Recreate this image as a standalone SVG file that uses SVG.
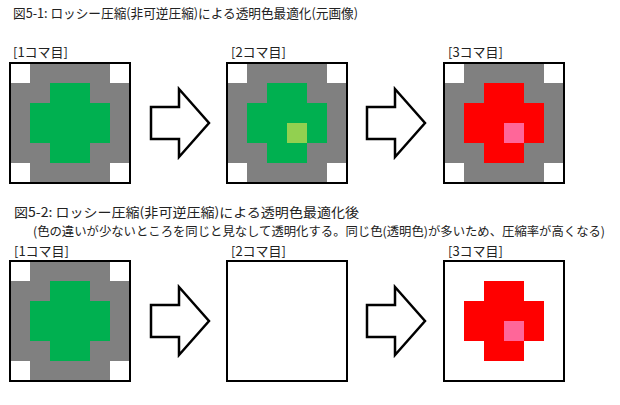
<svg xmlns="http://www.w3.org/2000/svg" xmlns:xlink="http://www.w3.org/1999/xlink" width="620" height="405" viewBox="0 0 620 405">
<style>
text{font-family:"Noto Sans CJK JP","Liberation Sans",sans-serif;font-size:13px;fill:#222}
.sub{font-size:12.5px}
.g{fill:#808080}.w{fill:#fff}.gr{fill:#00B050}.lg{fill:#92D050}.r{fill:#FF0000}.pk{fill:#FF6699}
.frame{fill:none;stroke:#000;stroke-width:2}
.arrow{fill:#fff;stroke:#000;stroke-width:2.5;stroke-linejoin:miter}
</style>
<defs>
<g id="base">
<rect class="g" x="0" y="0" width="120" height="120"/>
<rect class="w" x="0" y="0" width="20" height="20"/>
<rect class="w" x="100" y="0" width="20" height="20"/>
<rect class="w" x="0" y="100" width="20" height="20"/>
<rect class="w" x="100" y="100" width="20" height="20"/>
</g>
<path id="cross" d="M40 20H80V40H100V80H80V100H40V80H20V40H40Z"/>
<polygon id="arr" class="arrow" points="0,-16 28,-16 28,-34 58,0 28,34 28,16 0,16"/>
</defs>
<rect width="620" height="405" fill="#fff"/>
<text x="13" y="18" textLength="345" lengthAdjust="spacingAndGlyphs">図5-1: ロッシー圧縮(非可逆圧縮)による透明色最適化(元画像)</text>
<text x="13" y="57">[1コマ目]</text>
<text x="231" y="57">[2コマ目]</text>
<text x="448" y="57">[3コマ目]</text>
<g id="f1-1" transform="translate(10,63)">
<use xlink:href="#base"/><use xlink:href="#cross" class="gr"/>
<rect class="frame" x="0" y="0" width="120" height="120"/>
</g>
<g id="f1-2" transform="translate(227,63)">
<use xlink:href="#base"/><use xlink:href="#cross" class="gr"/>
<rect class="lg" x="60" y="60" width="20" height="20"/>
<rect class="frame" x="0" y="0" width="120" height="120"/>
</g>
<g id="f1-3" transform="translate(444,63)">
<use xlink:href="#base"/><use xlink:href="#cross" class="r"/>
<rect class="pk" x="60" y="60" width="20" height="20"/>
<rect class="frame" x="0" y="0" width="120" height="120"/>
</g>
<text x="14" y="217" textLength="345" lengthAdjust="spacingAndGlyphs">図5-2: ロッシー圧縮(非可逆圧縮)による透明色最適化後</text>
<text class="sub" x="33" y="236" textLength="572" lengthAdjust="spacingAndGlyphs">(色の違いが少ないところを同じと見なして透明化する。同じ色(透明色)が多いため、圧縮率が高くなる)</text>
<text x="14" y="256">[1コマ目]</text>
<text x="231" y="256">[2コマ目]</text>
<text x="448" y="256">[3コマ目]</text>
<g id="f2-1" transform="translate(10,261)">
<use xlink:href="#base"/><use xlink:href="#cross" class="gr"/>
<rect class="frame" x="0" y="0" width="120" height="120"/>
</g>
<g id="f2-2" transform="translate(227,261)">
<rect class="w" x="0" y="0" width="120" height="120"/>
<rect class="frame" x="0" y="0" width="120" height="120"/>
</g>
<g id="f2-3" transform="translate(444,261)">
<rect class="w" x="0" y="0" width="120" height="120"/>
<use xlink:href="#cross" class="r"/>
<rect class="pk" x="60" y="60" width="20" height="20"/>
<rect class="frame" x="0" y="0" width="120" height="120"/>
</g>
<g id="connectors">
<use xlink:href="#arr" x="151" y="123"/>
<use xlink:href="#arr" x="367" y="123"/>
<use xlink:href="#arr" x="151" y="321"/>
<use xlink:href="#arr" x="367" y="321"/>
</g>
</svg>
